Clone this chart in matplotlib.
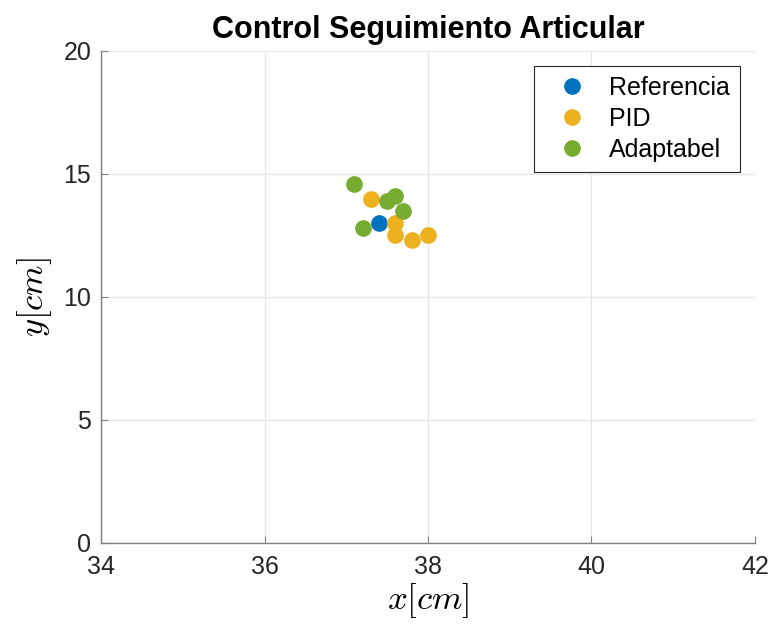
import matplotlib.pyplot as plt

plt.rcParams['font.family'] = ['Liberation Sans', 'DejaVu Sans']
plt.rcParams['mathtext.fontset'] = 'cm'

# Datos
ref_x = [37.4]
ref_y = [13.0]
pid_x = [37.3, 37.6, 37.6, 37.8, 38.0]
pid_y = [14.0, 13.0, 12.5, 12.3, 12.5]
ada_x = [37.1, 37.5, 37.6, 37.7, 37.2]
ada_y = [14.6, 13.9, 14.1, 13.5, 12.8]

c_ref = '#0072BD'
c_pid = '#EDB120'
c_ada = '#77AC30'

fig = plt.figure(figsize=(7.73, 6.31), dpi=100)
ax = fig.add_axes([0.1307, 0.1395, 0.846, 0.7797])

ax.plot(ref_x, ref_y, 'o', color=c_ref, markersize=11, label='Referencia', zorder=3)
ax.plot(pid_x, pid_y, 'o', color=c_pid, markersize=11, label='PID', zorder=3)
ax.plot(ada_x, ada_y, 'o', color=c_ada, markersize=11, label='Adaptabel', zorder=3)

ax.set_xlim(34, 42)
ax.set_ylim(0, 20)
ax.set_xticks([34, 36, 38, 40, 42])
ax.set_yticks([0, 5, 10, 15, 20])
ax.grid(True, color='#e6e6e6', linewidth=0.9)
ax.set_axisbelow(True)

for s in ['top', 'right']:
    ax.spines[s].set_visible(False)
for s in ['left', 'bottom']:
    ax.spines[s].set_color('#808080')
    ax.spines[s].set_linewidth(1.0)
ax.tick_params(direction='in', length=5, width=0.8, colors='#808080',
               labelcolor='#262626', labelsize=18)
ax.tick_params(axis='x', pad=9)
ax.tick_params(axis='y', pad=7)

ax.set_title('Control Seguimiento Articular', fontsize=22, fontweight='bold', pad=9)
ax.set_xlabel('$x[cm]$', fontsize=25, labelpad=1)
ax.set_ylabel('$y[cm]$', fontsize=25, labelpad=7)

leg = ax.legend(loc='upper right', fontsize=18, fancybox=False, framealpha=1,
                edgecolor='#262626', borderaxespad=0.6, handletextpad=0.4,
                labelspacing=0.28, borderpad=0.4, handlelength=2.2)
leg.get_frame().set_linewidth(0.8)

fig.savefig('out.png', dpi=100)
